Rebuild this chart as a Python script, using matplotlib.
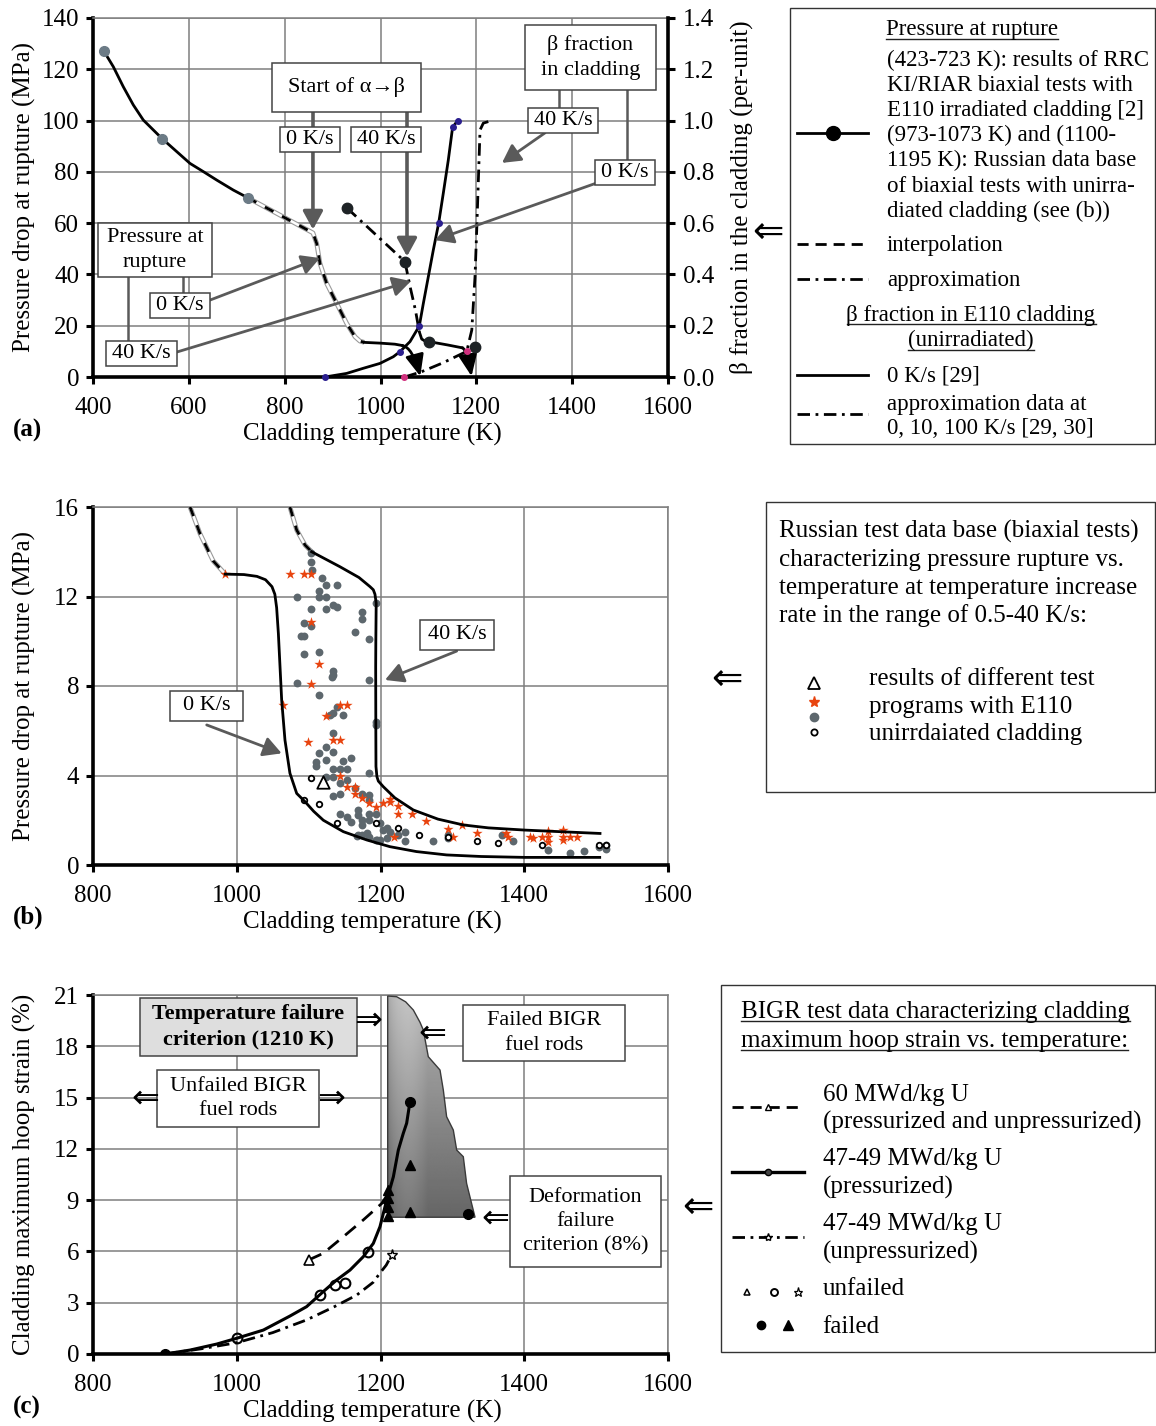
import numpy as np
import matplotlib
matplotlib.use("Agg")
import matplotlib.pyplot as plt
from matplotlib.patches import Polygon, Rectangle
from matplotlib.lines import Line2D
from matplotlib.ticker import FormatStrFormatter

plt.rcParams["font.family"] = ["Liberation Serif", "DejaVu Serif"]
plt.rcParams["lines.scale_dashes"] = False

# ---------------- panel (a): pressure at rupture ----------------
irr_T = [423, 442.4, 463.2, 484.1, 505, 543.4, 574.7, 602.4, 630.2, 658.2, 692.8, 723]
irr_P = [127, 121, 113.2, 106.1, 100.2, 93.1, 87.9, 83.3, 80.1, 76.8, 72.9, 69.9]
irr_mark_T = [423, 544, 723]
irr_mark_P = [127, 93, 70]

p0_interp_T = [723, 859, 866.8, 873.7, 887.6, 908.6, 929.4, 946.8, 957, 966.2]
p0_interp_P = [69.9, 56.2, 52.1, 44.3, 36.5, 28.7, 20.9, 15.7, 14.0, 13.5]
p0_tail_T = [966.2, 1000, 1030, 1045]
p0_tail_P = [13.5, 13.2, 12.8, 12.3]
p0_end = (1083, 0.3)

p40_approx_T = [930, 1051, 1062, 1073, 1081]
p40_approx_P = [65.9, 45.0, 35.0, 26.0, 17.6]
p40_tail_T = [1081, 1086, 1093, 1101, 1140, 1170]
p40_tail_P = [17.6, 14.8, 14.0, 13.8, 12.5, 11.4]
p40_end = (1190, 0.3)
p40_mark_T = [930, 1051, 1101, 1197]
p40_mark_P = [65.9, 45.0, 13.8, 11.8]

# beta fraction (right axis)
beta0_T = [884, 929.4, 964.1, 998.9, 1026.7, 1040.7, 1061.6, 1081, 1089.4, 1099.8,
           1110.2, 1121.4, 1131, 1141.5, 1150.5, 1161]
beta0_F = [0.0, 0.014, 0.034, 0.053, 0.079, 0.099, 0.138, 0.199, 0.287, 0.391,
           0.495, 0.6, 0.716, 0.846, 0.974, 1.0]
beta0_mark_T = [884, 1040.7, 1081, 1121.4, 1150.5, 1161]
beta0_mark_F = [0.0, 0.099, 0.199, 0.6, 0.974, 1.0]
betaA_T = [1050, 1085, 1130, 1180, 1190.5, 1197.2, 1200.8, 1207.7, 1214.6, 1225]
betaA_F = [0.0, 0.02, 0.055, 0.1, 0.183, 0.39, 0.573, 0.963, 0.99, 0.996]
betaA_mark_T = [1050, 1180]
betaA_mark_F = [0.0, 0.1]

# ---------------- panel (b): Russian data base ----------------
b0_interp_T = [935, 949, 967, 984]
b0_interp_P = [16.0, 14.8, 13.6, 13.0]
b0_T = [984, 1010, 1028, 1040, 1049, 1053, 1055.5, 1057.9, 1062.5, 1067.1, 1074,
        1083.4, 1095, 1107, 1120.5, 1148.3, 1180.8, 1213, 1250, 1292, 1340, 1401, 1505]
b0_P = [13.0, 12.98, 12.9, 12.75, 12.44, 12.1, 11.5, 10.35, 7.37, 5.58, 4.1,
        3.2, 2.83, 2.4, 2.0, 1.49, 1.12, 0.82, 0.6, 0.45, 0.38, 0.34, 0.34]
b40_interp_T = [1074, 1083.4, 1095, 1104.2]
b40_interp_P = [16.0, 14.97, 14.3, 14.0]
b40_T = [1104.2, 1143.6, 1170, 1185.4, 1190, 1192.3, 1194, 1193.5, 1193.3, 1193.5,
         1193.7, 1195, 1197, 1203.9, 1220, 1245.6, 1280, 1315.2, 1350, 1401, 1505.4]
b40_P = [14.0, 13.33, 12.85, 12.44, 12.3, 12.1, 11.7, 10.0, 8.86, 6.0,
         4.4, 3.95, 3.75, 3.5, 3.0, 2.46, 2.05, 1.79, 1.66, 1.56, 1.41]

dots_T = [1103.3, 1103.3, 1104.2, 1119.1, 1124.2, 1139.0, 1114.0, 1114.0, 1124.2, 1083.4,
          1103.8, 1124.2, 1133.4, 1139.0, 1173.8, 1173.8, 1193.7, 1093.6, 1103.8,
          1088.9, 1093.6, 1164.1, 1184.0, 1093.6, 1114.0, 1133.4, 1133.4, 1132.0,
          1083.4, 1184.0, 1114.0, 1139.0, 1129.7, 1148.3, 1134.4, 1193.7, 1193.7,
          1133.4, 1124.2, 1114.0, 1133.4, 1124.2, 1110.3, 1110.3, 1148.3, 1158.5,
          1133.4, 1143.6, 1153.9, 1184.0, 1124.2, 1134.4, 1143.6, 1153.9, 1164.1,
          1133.4, 1143.6, 1173.8, 1184.0, 1184.0,
          1143.6, 1153.9, 1158.5, 1169.2, 1169.2, 1173.8, 1173.8, 1184.0, 1184.0,
          1193.7, 1199.3, 1203.9, 1208.6, 1213.7, 1223.9, 1234.1, 1234.1, 1169.2,
          1173.8, 1184.0, 1193.7, 1199.3, 1208.6, 1273.5, 1294.4, 1294.4, 1166.9,
          1180.8, 1194.7, 1369.5, 1383.9, 1433.5, 1463.6, 1483.1, 1504.5, 1513.7, 1513.7]
dots_P = [13.93, 13.56, 13.18, 12.81, 12.51, 12.51, 12.26, 11.99, 11.99, 11.99,
          11.43, 11.43, 11.62, 11.52, 11.32, 10.99, 11.72, 10.80, 10.68,
          10.24, 10.24, 10.40, 10.12, 9.42, 9.50, 8.69, 8.49, 8.42,
          8.12, 8.25, 7.61, 7.08, 6.70, 6.70, 6.78, 6.41, 6.26,
          5.91, 5.29, 4.99, 5.04, 4.69, 4.62, 4.44, 4.66, 4.78,
          4.28, 4.28, 4.28, 4.13, 3.95, 3.95, 3.65, 3.80, 3.43,
          3.08, 3.17, 3.17, 3.13, 2.91,
          2.28, 2.16, 1.94, 2.46, 2.23, 2.01, 1.79, 2.28, 2.01,
          2.28, 1.86, 1.56, 1.64, 1.49, 1.34, 1.46, 1.09, 1.34,
          1.34, 1.27, 1.12, 1.12, 1.19, 1.09, 1.34, 1.19, 1.31,
          1.41, 1.12, 1.34, 1.09, 0.67, 0.52, 0.63, 0.82, 0.89, 0.70]

stars_T = [983.7, 1074.1, 1093.6, 1103.3, 1103.8, 1114.0, 1103.8, 1063.9, 1143.6, 1153.9,
           1124.2, 1133.4, 1143.6, 1099.1, 1143.6, 1153.9, 1164.1, 1164.1, 1173.8, 1184.0,
           1193.7, 1203.9, 1213.7, 1213.7, 1223.9, 1223.9, 1243.8, 1263.3, 1218.8, 1294.4,
           1301.3, 1313.9, 1333.8, 1374.1, 1376.9, 1408.0, 1412.6, 1424.2, 1433.5, 1433.5,
           1433.5, 1454.4, 1454.4, 1454.4, 1463.6, 1472.9]
stars_P = [13.0, 13.01, 13.01, 13.01, 10.85, 9.00, 8.10, 7.14, 7.14, 7.14,
           6.67, 5.59, 5.59, 5.48, 3.98, 3.50, 3.50, 3.17, 3.01, 2.76,
           2.61, 2.79, 2.94, 2.80, 2.64, 2.28, 2.28, 1.97, 1.27, 1.59,
           1.27, 1.79, 1.41, 1.44, 1.24, 1.27, 1.19, 1.27, 1.53, 1.27,
           1.04, 1.56, 1.27, 1.12, 1.24, 1.24]

circ_T = [1103.8, 1093.6, 1114.0, 1139.0, 1193.7, 1223.9, 1254.0, 1294.4, 1333.8,
          1364.0, 1424.2, 1504.5, 1513.7]
circ_P = [3.87, 2.91, 2.73, 1.86, 1.89, 1.64, 1.34, 1.24, 1.09,
          1.00, 0.89, 0.89, 0.89]
tri_T = [1120.5]
tri_P = [3.72]

# ---------------- panel (c): BIGR hoop strain ----------------
press_T = [900, 935, 972, 1000, 1037, 1074, 1097.2, 1120.4, 1139, 1157.6, 1176, 1190,
           1199.3, 1206.3, 1210, 1217.9, 1224.8, 1231.7, 1236.4, 1241]
press_S = [0.0, 0.23, 0.58, 0.92, 1.4, 2.22, 2.77, 3.65, 4.33, 4.91, 5.69, 6.47,
           7.45, 8.62, 9.2, 10.37, 11.93, 12.91, 13.5, 14.76]
unpress_T = [900, 950, 1000, 1050, 1097, 1135, 1167, 1190, 1199, 1208, 1215.5]
unpress_S = [0.0, 0.3, 0.66, 1.25, 1.99, 2.75, 3.45, 4.2, 4.72, 5.2, 5.79]
hb_T = [1100, 1120.4, 1148.3, 1176, 1201.6, 1211]
hb_S = [5.5, 5.89, 6.86, 7.84, 8.8, 9.4]

unf_circ_T = [1000, 1116, 1137, 1151, 1183]
unf_circ_S = [0.92, 3.45, 4.04, 4.17, 5.99]
unf_tri_T = [1100]
unf_tri_S = [5.5]
unf_star_T = [1215.5]
unf_star_S = [5.79]
fail_circ_T = [900, 1241, 1322]
fail_circ_S = [0.0, 14.76, 8.19]
fail_tri_T = [1211, 1211, 1211, 1211, 1241, 1241]
fail_tri_S = [9.6, 9.1, 8.6, 8.1, 11.06, 8.33]

zone_T = [1210, 1210, 1222.5, 1235, 1245.7, 1255, 1259.6, 1266.5, 1282.8, 1287.4,
          1292, 1301.3, 1306, 1315.2, 1319.8, 1331.5]
zone_S = [8.0, 20.94, 20.9, 20.6, 20.12, 19.4, 18.95, 17.39, 16.61, 15.44,
          13.88, 13.1, 11.93, 11.54, 9.98, 8.0]

# ---------------- figure & helpers ----------------
W, H = 1156, 1426
fig = plt.figure(figsize=(W / 100, H / 100), dpi=100)

FS_TICK = 18
FS_ANN = 16
GRID = "#7f7f7f"
ARROW_GRAY = "#5a5a5a"
ARROW_FONT = ["DejaVu Sans"]


def fx(x):
    return x / W


def fy(y):
    return 1 - y / H


def axes_px(x0, y0, x1, y1):
    return fig.add_axes([fx(x0), fy(y1), (x1 - x0) / W, (y1 - y0) / H])


def ftext(x, y, s, **kw):
    kw.setdefault("fontsize", 18)
    return fig.text(fx(x), fy(y), s, **kw)


def fline(xs, ys, **kw):
    ln = Line2D([fx(v) for v in xs], [fy(v) for v in ys], transform=fig.transFigure, **kw)
    fig.add_artist(ln)
    return ln


def fbox(x0, y0, x1, y1, **kw):
    fig.add_artist(Rectangle((fx(x0), fy(y1)), (x1 - x0) / W, (y1 - y0) / H,
                             transform=fig.transFigure, **kw))


def underlined(x, y, s, fs, ha="left"):
    t = ftext(x, y, s, fontsize=fs, va="baseline", ha=ha)
    r = fig.canvas.get_renderer()
    bb = t.get_window_extent(renderer=r)
    fline([bb.x0, bb.x1], [y + 3, y + 3], color="#222222", lw=1.0)
    return t


def style_axes(ax):
    ax.grid(True, color=GRID, lw=1.1)
    ax.set_axisbelow(True)
    for s in ("top", "right"):
        ax.spines[s].set_color(GRID)
        ax.spines[s].set_linewidth(1.1)
    for s in ("left", "bottom"):
        ax.spines[s].set_color("black")
        ax.spines[s].set_linewidth(2.6)
    ax.tick_params(direction="out", length=5, width=2.2, labelsize=FS_TICK, pad=5)
    ax.tick_params(axis="x", pad=9.5)


def box_text(ax, x0, x1, y0, y1, s, fs=FS_ANN, fc="white", weight="normal"):
    ax.add_patch(Rectangle((x0, y0), x1 - x0, y1 - y0, fc=fc, ec="#444444", lw=1.1,
                           zorder=6, clip_on=False))
    ax.text((x0 + x1) / 2, (y0 + y1) / 2, s, fontsize=fs, ha="center", va="center",
            weight=weight, zorder=7, linespacing=1.38)


def gray_arrow(ax, start, tip, lw=2.0):
    ax.annotate("", xy=tip, xytext=start, zorder=5, annotation_clip=False,
                arrowprops=dict(arrowstyle="-|>,head_length=0.55,head_width=0.3",
                                mutation_scale=20, lw=lw, color=ARROW_GRAY,
                                shrinkA=0, shrinkB=0))


def interp_line(ax, x, y):
    ax.plot(x, y, color="#9a9a9a", lw=3.4, zorder=3, solid_capstyle="butt")
    ax.plot(x, y, color="white", lw=1.8, zorder=3.1, solid_capstyle="butt")
    ax.plot(x, y, color="black", lw=2.0, dashes=(7, 7), zorder=3.2)


DASHDOT = (9, 4, 2, 4)

# ======================= panel (a) =======================
axA = axes_px(93, 18, 668, 377)
axA.set_xlim(400, 1600)
axA.set_ylim(0, 140)
axA.set_xticks(range(400, 1601, 200))
axA.set_yticks(range(0, 141, 20))
style_axes(axA)

axA2 = axA.twinx()
axA2.set_ylim(0, 1.4)
axA2.set_yticks(np.arange(0, 1.41, 0.2))
axA2.yaxis.set_major_formatter(FormatStrFormatter("%.1f"))
for s in ("left", "top", "bottom"):
    axA2.spines[s].set_visible(False)
axA2.spines["right"].set_color("black")
axA2.spines["right"].set_linewidth(2.6)
axA2.tick_params(direction="out", length=5, width=2.2, labelsize=FS_TICK, pad=6)
axA.spines["right"].set_visible(False)

# pressure curves
axA.plot(irr_T, irr_P, color="black", lw=2.0, zorder=4)
axA.plot(irr_mark_T, irr_mark_P, "o", color="#6c7b86", ms=7, zorder=4.5)
interp_line(axA, p0_interp_T, p0_interp_P)
axA.plot(p0_tail_T, p0_tail_P, color="black", lw=2.0, zorder=4)
axA.annotate("", xy=p0_end, xytext=(p0_tail_T[-1], p0_tail_P[-1]), zorder=4,
             arrowprops=dict(arrowstyle="-|>,head_length=0.65,head_width=0.28",
                             mutation_scale=20, lw=2.0, color="black",
                             shrinkA=0, shrinkB=0,
                             connectionstyle="angle3,angleA=-10,angleB=-75"))
axA.plot(p40_approx_T, p40_approx_P, color="black", lw=2.0, dashes=DASHDOT, zorder=4)
axA.plot(p40_tail_T, p40_tail_P, color="black", lw=2.0, zorder=4)
axA.annotate("", xy=p40_end, xytext=(p40_tail_T[-1], p40_tail_P[-1]), zorder=4,
             arrowprops=dict(arrowstyle="-|>,head_length=0.65,head_width=0.28",
                             mutation_scale=20, lw=2.0, color="black",
                             shrinkA=0, shrinkB=0,
                             connectionstyle="angle3,angleA=-5,angleB=-80"))
axA.plot(p40_mark_T, p40_mark_P, "o", color="#1e2326", ms=7.5, zorder=4.5)

# beta fraction curves, drawn on the right-hand scale
trB = axA2.transData
axA.plot(beta0_T, beta0_F, color="black", lw=2.0, transform=trB, zorder=4)
axA.plot(beta0_mark_T, beta0_mark_F, "o", color="#2b1f8f", ms=4, transform=trB,
         zorder=4.5, clip_on=False)
axA.plot(betaA_T, betaA_F, color="black", lw=2.0, dashes=DASHDOT, transform=trB, zorder=4)
axA.plot(betaA_mark_T, betaA_mark_F, "o", color="#d0307e", ms=4, transform=trB,
         zorder=4.5, clip_on=False)

# annotations (a)
axA.plot([859, 859], [103.3, 97.5], color=ARROW_GRAY, lw=2.6, zorder=5)
axA.plot([1055.3, 1055.3], [103.3, 97.5], color=ARROW_GRAY, lw=2.6, zorder=5)
gray_arrow(axA, (859, 87.7), (859, 57.5), lw=2.6)
gray_arrow(axA, (1055.3, 87.7), (1055.3, 47.0), lw=2.6)
box_text(axA, 773.6, 1084.5, 103.3, 122.5, "Start of α→β")
box_text(axA, 790.3, 915.5, 87.7, 97.5, "0 K/s")
box_text(axA, 938.4, 1084.5, 87.7, 97.5, "40 K/s")

axA.plot([1372.5, 1372.5], [111.9, 104.9], color=ARROW_GRAY, lw=1.8, zorder=5)
axA.plot([1514.4, 1514.4], [111.9, 84.6], color=ARROW_GRAY, lw=1.8, zorder=5)
gray_arrow(axA, (1343.3, 95.2), (1253.6, 83.5))
gray_arrow(axA, (1451.8, 75.7), (1113.7, 53.4))
box_text(axA, 1301.6, 1575, 111.9, 137.3, "β fraction\nin cladding")
box_text(axA, 1307.8, 1453.9, 95.2, 104.9, "40 K/s")
box_text(axA, 1447.6, 1572.9, 74.9, 84.6, "0 K/s")

axA.plot([473, 473], [39.0, 14.0], color=ARROW_GRAY, lw=1.8, zorder=5)
axA.plot([587.8, 587.8], [39.0, 32.8], color=ARROW_GRAY, lw=1.8, zorder=5)
gray_arrow(axA, (644.2, 30.0), (873.7, 46.4))
gray_arrow(axA, (575.3, 9.75), (1063.6, 37.4))
box_text(axA, 410.4, 648.3, 39.0, 60.1, "Pressure at\nrupture")
box_text(axA, 519, 644.2, 23.0, 32.8, "0 K/s")
box_text(axA, 427.1, 575.3, 4.3, 14.0, "40 K/s")

ftext(372, 434, "Cladding temperature (K)", ha="center", va="center")
ftext(24, 197, "Pressure drop at rupture (MPa)", rotation=90, ha="center", va="center")
ftext(741, 197, "β fraction in the cladding (per-unit)", rotation=90, ha="center",
      va="center")
ftext(13, 430, "(a)", ha="left", va="center", weight="bold")

# legend (a)
fbox(790, 8, 1155, 444, fc="white", ec="#333333", lw=1.0)
ftext(768, 233, "⇐", ha="center", va="center", fontsize=27, family=ARROW_FONT)
FSL = 16.5
underlined(886, 35.5, "Pressure at rupture", FSL)
for i, s in enumerate(["(423-723 K): results of RRC",
                       "KI/RIAR biaxial tests with",
                       "E110 irradiated cladding [2]",
                       "(973-1073 K) and (1100-",
                       "1195 K): Russian data base",
                       "of biaxial tests with unirra-",
                       "diated cladding (see (b))"]):
    ftext(887, 66 + 25.1 * i, s, fontsize=FSL, va="baseline")
fline([797, 833, 868], [133, 133, 133], color="black", lw=2.0, marker="o", ms=10,
      markevery=[1])
fline([797, 868], [243.5, 243.5], color="black", lw=2.0, dashes=(8, 5))
ftext(887, 251.5, "interpolation", fontsize=FSL, va="baseline")
fline([797, 868], [279, 279], color="black", lw=2.0, dashes=DASHDOT)
ftext(887, 286, "approximation", fontsize=FSL, va="baseline")
underlined(971, 321, "β fraction in E110 cladding", FSL, ha="center")
underlined(971, 346.5, "(unirradiated)", FSL, ha="center")
fline([797, 868], [374.5, 374.5], color="black", lw=2.0)
ftext(887, 381.5, "0 K/s [29]", fontsize=FSL, va="baseline")
fline([797, 868], [413.5, 413.5], color="black", lw=2.0, dashes=DASHDOT)
ftext(887, 410, "approximation data at", fontsize=FSL, va="baseline")
ftext(887, 434, "0, 10, 100 K/s [29, 30]", fontsize=FSL, va="baseline")

# ======================= panel (b) =======================
axB = axes_px(93, 507, 668, 865)
axB.set_xlim(800, 1600)
axB.set_ylim(0, 16)
axB.set_xticks(range(800, 1601, 200))
axB.set_yticks(range(0, 17, 4))
style_axes(axB)

interp_line(axB, b0_interp_T, b0_interp_P)
interp_line(axB, b40_interp_T, b40_interp_P)
axB.plot(b0_T, b0_P, color="black", lw=2.0, zorder=4)
axB.plot(b40_T, b40_P, color="black", lw=2.0, zorder=4)
axB.scatter(dots_T, dots_P, s=32, color="#5d676d", zorder=3.5, linewidths=0)
axB.scatter(stars_T, stars_P, s=60, marker="*", color="#e8440f", zorder=3.7, linewidths=0)
axB.scatter(circ_T, circ_P, s=16, facecolors="white", edgecolors="black",
            linewidths=1.3, zorder=3.8)
axB.scatter(tri_T, tri_P, s=80, marker="^", facecolors="white", edgecolors="black",
            linewidths=1.3, zorder=3.8)

gray_arrow(axB, (958.2, 6.26), (1062.5, 4.99))
gray_arrow(axB, (1306, 9.56), (1206.3, 8.27))
box_text(axB, 907.1, 1008.7, 6.44, 7.78, "0 K/s")
box_text(axB, 1255, 1357.9, 9.61, 10.95, "40 K/s")

ftext(372, 922, "Cladding temperature (K)", ha="center", va="center")
ftext(24, 686, "Pressure drop at rupture (MPa)", rotation=90, ha="center", va="center")
ftext(13, 917, "(b)", ha="left", va="center", weight="bold")

# legend (b)
fbox(766, 502, 1155, 792, fc="white", ec="#333333", lw=1.0)
ftext(727, 680, "⇐", ha="center", va="center", fontsize=27, family=ARROW_FONT)
for i, s in enumerate(["Russian test data base (biaxial tests)",
                       "characterizing pressure rupture vs.",
                       "temperature at temperature increase",
                       "rate in the range of 0.5-40 K/s:"]):
    ftext(779, 538 + 28 * i, s, fontsize=18, va="baseline")
fline([814.3], [683], marker="^", ms=8, mfc="white", mec="black", mew=1.3, ls="none")
fline([814.3], [701.7], marker="*", ms=8, mfc="#e8440f", mec="#e8440f", ls="none")
fline([814.3], [717.3], marker="o", ms=6, mfc="#5d676d", mec="#5d676d", ls="none")
fline([814.3], [731.7], marker="o", ms=4.5, mfc="white", mec="black", mew=1.3, ls="none")
for i, s in enumerate(["results of different test",
                       "programs with E110",
                       "unirrdaiated cladding"]):
    ftext(869, 685 + 27.5 * i, s, fontsize=18, va="baseline")

# ======================= panel (c) =======================
axC = axes_px(93, 995, 668, 1354)
axC.set_xlim(800, 1600)
axC.set_ylim(0, 21)
axC.set_xticks(range(800, 1601, 200))
axC.set_yticks(range(0, 22, 3))
style_axes(axC)

zone = Polygon(np.column_stack([zone_T, zone_S]), closed=True, fc="none",
               ec="#3a3a3a", lw=1.0, zorder=2.6)
axC.add_patch(zone)
gy = np.linspace(0, 1, 240)[:, None]
gx = np.linspace(0, 1, 80)[None, :]
shade = 0.40 + 0.30 * gy + 0.07 * np.sin(np.pi * np.clip(gx * 2.2, 0, 1)) - 0.05 * np.exp(-gx * 30)
img = axC.imshow(shade, extent=[zone_T[0], max(zone_T), 8.0, 21.0], origin="lower",
                 cmap="gray", vmin=0, vmax=1, aspect="auto", zorder=2.5,
                 interpolation="bilinear")
img.set_clip_path(zone)
axC.set_xlim(800, 1600)
axC.set_ylim(0, 21)

axC.plot(press_T, press_S, color="black", lw=2.2, zorder=4)
axC.plot(unpress_T, unpress_S, color="black", lw=2.0, dashes=DASHDOT, zorder=4)
axC.plot(hb_T, hb_S, color="black", lw=2.0, dashes=(10, 6), zorder=4)
axC.plot(unf_circ_T, unf_circ_S, "o", ms=7, mfc="none", mec="black", mew=1.5, zorder=5)
axC.plot(unf_tri_T, unf_tri_S, "^", ms=6.5, mfc="white", mec="black", mew=1.2, zorder=5)
axC.plot(unf_star_T, unf_star_S, "*", ms=8, mfc="white", mec="black", mew=1.0, zorder=5)
axC.plot(fail_circ_T, fail_circ_S, "o", ms=7, color="black", zorder=5)
axC.plot(fail_tri_T, fail_tri_S, "^", ms=7, color="black", zorder=5)

box_text(axC, 865.4, 1167.3, 17.43, 20.82, "Temperature failure\ncriterion (1210 K)",
         fc="#dedede", weight="bold")
box_text(axC, 889, 1114.4, 13.28, 16.61, "Unfailed BIGR\nfuel rods")
box_text(axC, 1314.8, 1540.2, 17.14, 20.42, "Failed BIGR\nfuel rods")
box_text(axC, 1380.2, 1590.3, 5.09, 10.41, "Deformation\nfailure\ncriterion (8%)")
for (tx, ty, s) in [(1182.6, 19.54, "⇒"), (872.3, 14.98, "⇐"), (1131.1, 14.98, "⇒"),
                    (1271.7, 18.78, "⇐"), (1359.3, 7.96, "⇐")]:
    axC.text(tx, ty, s, fontsize=24, ha="center", va="center", zorder=7,
             family=ARROW_FONT)

ftext(372, 1411, "Cladding temperature (K)", ha="center", va="center")
ftext(24, 1174, "Cladding maximum hoop strain (%)", rotation=90, ha="center",
      va="center")
ftext(13, 1407, "(c)", ha="left", va="center", weight="bold")

# legend (c)
fbox(721, 985, 1155, 1352, fc="white", ec="#333333", lw=1.0)
ftext(698, 1208, "⇐", ha="center", va="center", fontsize=27, family=ARROW_FONT)
underlined(741, 1018.3, "BIGR test data characterizing cladding", 18)
underlined(741, 1046.7, "maximum hoop strain vs. temperature:", 18)
fline([732, 768, 804], [1106.7] * 3, color="black", lw=2.0, dashes=(8, 5),
      marker="^", ms=5, mfc="white", mec="black", markevery=[1])
fline([732, 768, 804], [1171.7] * 3, color="black", lw=2.4,
      marker="o", ms=4.5, mfc="#444444", mec="black", markevery=[1])
fline([732, 768, 804], [1237.3] * 3, color="black", lw=2.0, dashes=DASHDOT,
      marker="*", ms=6, mfc="white", mec="black", markevery=[1])
for (yb, s) in [(1100.7, "60 MWd/kg U"), (1128.3, "(pressurized and unpressurized)"),
                (1165, "47-49 MWd/kg U"), (1193.3, "(pressurized)"),
                (1230, "47-49 MWd/kg U"), (1258.3, "(unpressurized)"),
                (1295, "unfailed"), (1333.3, "failed")]:
    ftext(822.7, yb, s, fontsize=18, va="baseline")
fline([747.3], [1291.7], marker="^", ms=5, mfc="white", mec="black", mew=1.1, ls="none")
fline([774.3], [1291.7], marker="o", ms=5, mfc="white", mec="black", mew=1.4, ls="none")
fline([798.3], [1291.7], marker="*", ms=6.5, mfc="white", mec="black", mew=0.9, ls="none")
fline([760.7], [1325], marker="o", ms=6, color="black", ls="none")
fline([788.3], [1325], marker="^", ms=6.5, color="black", ls="none")

fig.savefig("out.png", dpi=100)
